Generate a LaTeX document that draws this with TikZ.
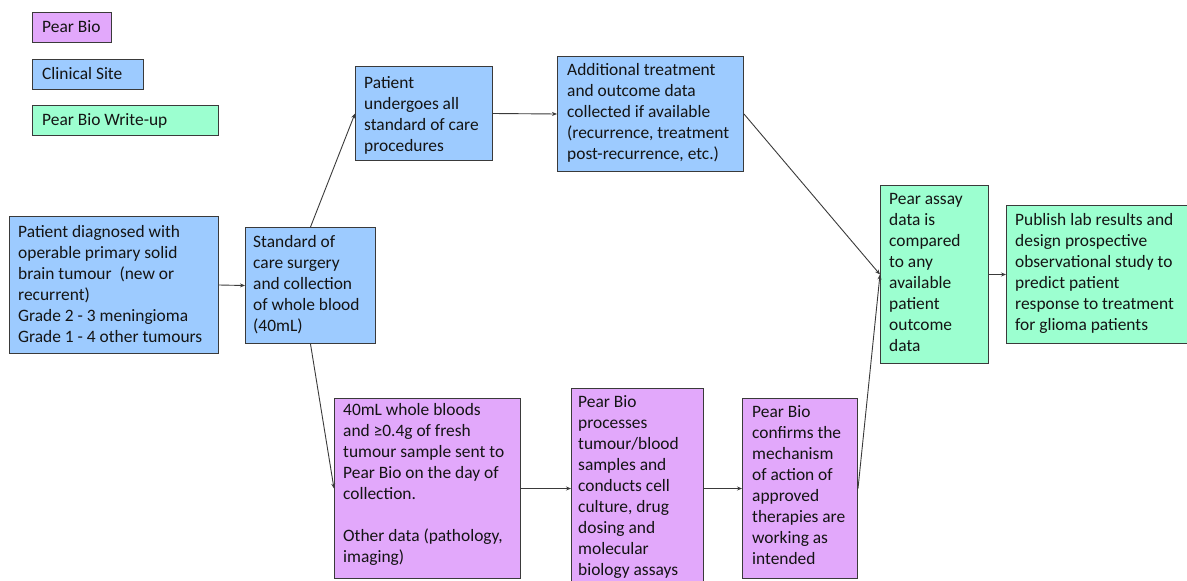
\documentclass[tikz,border=0pt]{standalone}
\usepackage{fontspec}
\setmainfont{Carlito}
\usetikzlibrary{arrows.meta}
\definecolor{pbpurple}{HTML}{E2A8FB}
\definecolor{csblue}{HTML}{9DCBFF}
\definecolor{wugreen}{HTML}{9CFFD0}
\definecolor{edgegray}{HTML}{3A3A3A}
\definecolor{txt}{HTML}{141414}
\tikzset{
  box/.style={draw=edgegray,line width=1pt,rectangle,inner sep=0pt},
  boxtext/.style={anchor=north west,inner sep=0pt,align=left,text=txt,font=\fontsize{17.4}{21}\selectfont},
  arr/.style={draw=edgegray,line width=0.9pt,-{Stealth[length=5pt,width=4pt]}}
}
\newcommand\bx[9]{%
  \node[box,fill=#6,minimum width=#4pt,minimum height=#5pt,anchor=north west] (#1) at (#2,#3) {};
  \node[boxtext] (#1t) at ([xshift=#8pt,yshift=-#7pt]#1.north west) {#9};
}
\begin{document}
\begin{tikzpicture}[x=1pt,y=-1pt]
\useasboundingbox (0,0) rectangle (1187,581);
% legend
\bx{leg1}{32}{12}{79}{30}{pbpurple}{8}{10}{Pear Bio}
\bx{leg2}{32}{59}{111}{30}{csblue}{8}{10}{Clinical Site}
\bx{leg3}{32}{105}{186}{30}{wugreen}{8}{10}{Pear Bio Write-up}
% main boxes
\bx{A}{9}{216}{209}{137}{csblue}{9}{9}{Patient diagnosed with\\operable primary solid\\brain tumour\ \ (new or\\recurrent)\\Grade 2 - 3 meningioma\\Grade 1 - 4 other tumours}
\bx{B}{245}{227}{130}{116}{csblue}{8}{8}{Standard of\\care surgery\\and collection\\of whole blood\\(40mL)}
\bx{C}{355}{66}{137}{94}{csblue}{10}{9}{Patient\\undergoes all\\standard of care\\procedures}
\bx{D}{557}{56}{186}{115}{csblue}{7}{10}{Additional treatment\\and outcome data\\collected if available\\(recurrence, treatment\\post-recurrence, etc.)}
\bx{E}{334}{398}{186}{180}{pbpurple}{5}{9}{40mL whole bloods\\and ≥0.4g of fresh\\tumour sample sent to\\Pear Bio on the day of\\collection.\\[21pt]Other data (pathology,\\imaging)}
\bx{F}{571}{388}{132}{200}{pbpurple}{7}{7}{Pear Bio\\processes\\tumour/blood\\samples and\\conducts cell\\culture, drug\\dosing and\\molecular\\biology assays}
\bx{G}{742}{398}{115}{180}{pbpurple}{7}{10}{Pear Bio\\confirms the\\mechanism\\of action of\\approved\\therapies are\\working as\\intended}
\bx{H}{880}{185}{108}{178}{wugreen}{8}{9}{Pear assay\\data is\\compared\\to any\\available\\patient\\outcome\\data}
\bx{I}{1006}{205}{181}{138}{wugreen}{8}{9}{Publish lab results and\\design prospective\\observational study to\\predict patient\\response to treatment\\for glioma patients}
% connectors
\draw[arr] (A.east) -- (B.west);
\draw[arr] (B.north) -- (C.west);
\draw[arr] (B.south) -- (E.west);
\draw[arr] (C.east) -- (D.west);
\draw[arr] (D.east) -- (H.west);
\draw[arr] (E.east) -- (F.west);
\draw[arr] (F.east) -- (G.west);
\draw[arr] (G.east) -- (H.west);
\draw[arr] (H.east) -- (I.west);
\end{tikzpicture}
\end{document}
